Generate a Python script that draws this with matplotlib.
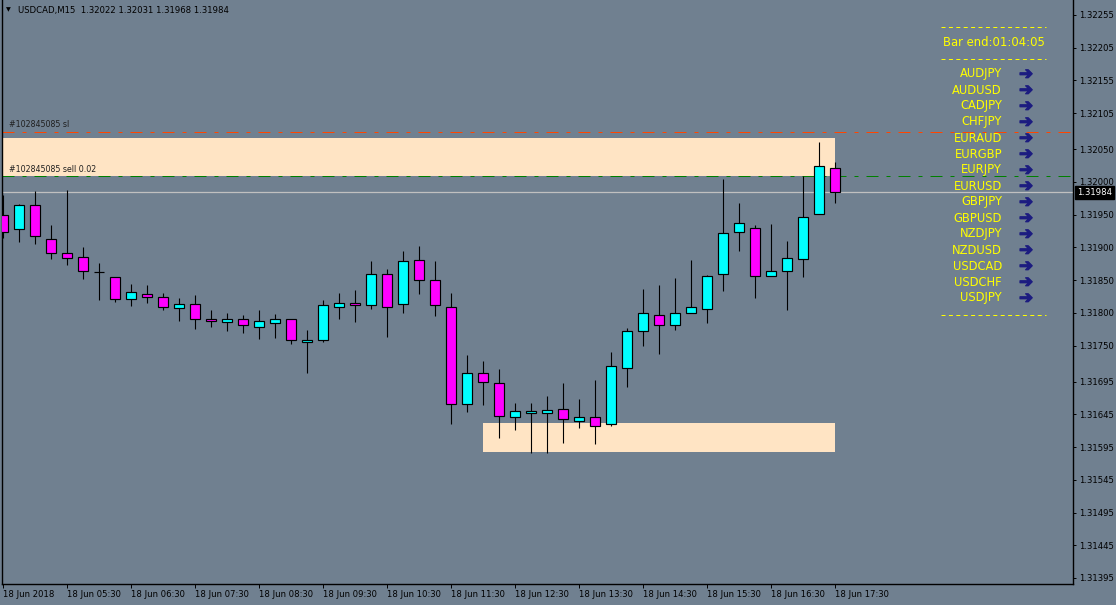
import matplotlib
matplotlib.use('Agg')
import matplotlib.pyplot as plt
import matplotlib.patheffects as pe
from matplotlib.patches import Rectangle
from matplotlib.lines import Line2D
import numpy as np

plt.rcParams['font.family'] = ['DejaVu Sans']

symbol = "USDCAD,M15"
header_ohlc = "1.32022 1.32031 1.31968 1.31984"

# M15 bars, 18 Jun 2018 04:30 .. 17:30
opens = [1.31950, 1.31928, 1.31965, 1.31913, 1.31891, 1.31885, 1.31862, 1.31855, 1.31821, 1.31829,
         1.31824, 1.31807, 1.31814, 1.31791, 1.31786, 1.31791, 1.31778, 1.31785, 1.31791, 1.31756,
         1.31759, 1.31809, 1.31815, 1.31812, 1.31859, 1.31814, 1.31881, 1.31850, 1.31809, 1.31661,
         1.31708, 1.31693, 1.31641, 1.31647, 1.31647, 1.31653, 1.31635, 1.31641, 1.31630, 1.31716,
         1.31772, 1.31797, 1.31781, 1.31800, 1.31806, 1.31859, 1.31924, 1.31930, 1.31856, 1.31864,
         1.31882, 1.31951, 1.32022]
highs = [1.31980, 1.31966, 1.31986, 1.31934, 1.31988, 1.31901, 1.31876, 1.31855, 1.31844, 1.31843,
         1.31830, 1.31823, 1.31827, 1.31804, 1.31800, 1.31797, 1.31804, 1.31798, 1.31791, 1.31774,
         1.31820, 1.31830, 1.31835, 1.31879, 1.31867, 1.31895, 1.31902, 1.31879, 1.31830, 1.31736,
         1.31727, 1.31714, 1.31662, 1.31662, 1.31673, 1.31693, 1.31668, 1.31698, 1.31740, 1.31777,
         1.31836, 1.31843, 1.31853, 1.31881, 1.31858, 1.32004, 1.31968, 1.31934, 1.31936, 1.31910,
         1.32009, 1.32061, 1.32031]
lows = [1.31914, 1.31908, 1.31905, 1.31882, 1.31873, 1.31852, 1.31820, 1.31817, 1.31811, 1.31815,
        1.31804, 1.31788, 1.31775, 1.31778, 1.31772, 1.31769, 1.31760, 1.31762, 1.31752, 1.31708,
        1.31756, 1.31791, 1.31786, 1.31806, 1.31763, 1.31800, 1.31829, 1.31795, 1.31630, 1.31649,
        1.31659, 1.31609, 1.31621, 1.31586, 1.31586, 1.31601, 1.31624, 1.31600, 1.31627, 1.31687,
        1.31749, 1.31737, 1.31774, 1.31800, 1.31785, 1.31833, 1.31895, 1.31823, 1.31856, 1.31804,
        1.31855, 1.31951, 1.31968]
closes = [1.31924, 1.31965, 1.31917, 1.31891, 1.31884, 1.31864, 1.31862, 1.31821, 1.31832, 1.31824,
          1.31809, 1.31814, 1.31791, 1.31788, 1.31791, 1.31781, 1.31788, 1.31791, 1.31759, 1.31759,
          1.31812, 1.31815, 1.31812, 1.31859, 1.31809, 1.31879, 1.31850, 1.31812, 1.31661, 1.31708,
          1.31694, 1.31642, 1.31650, 1.31650, 1.31652, 1.31638, 1.31641, 1.31627, 1.31719, 1.31772,
          1.31800, 1.31781, 1.31800, 1.31809, 1.31856, 1.31922, 1.31937, 1.31856, 1.31864, 1.31884,
          1.31946, 1.32024, 1.31984]

price_ticks = [1.32255, 1.32205, 1.32155, 1.32105, 1.32050, 1.32000, 1.31950, 1.31900, 1.31850,
               1.31800, 1.31750, 1.31695, 1.31645, 1.31595, 1.31545, 1.31495, 1.31445, 1.31395]
time_ticks = [0, 4, 8, 12, 16, 20, 24, 28, 32, 36, 40, 44, 48, 52]
time_labels = ["18 Jun 2018", "18 Jun 05:30", "18 Jun 06:30", "18 Jun 07:30", "18 Jun 08:30",
               "18 Jun 09:30", "18 Jun 10:30", "18 Jun 11:30", "18 Jun 12:30", "18 Jun 13:30",
               "18 Jun 14:30", "18 Jun 15:30", "18 Jun 16:30", "18 Jun 17:30"]

bid = 1.31984
sell_price = 1.32009
sl_price = 1.32077
order_sl_label = "#102845085 sl"
order_label = "#102845085 sell 0.02"
supply_zone = (-5, 52, 1.32009, 1.32067)
demand_zone = (30, 52, 1.31588, 1.31632)

timer_text = "Bar end:01:04:05"
pairs = ["AUDJPY", "AUDUSD", "CADJPY", "CHFJPY", "EURAUD", "EURGBP", "EURJPY", "EURUSD",
         "GBPJPY", "GBPUSD", "NZDJPY", "NZDUSD", "USDCAD", "USDCHF", "USDJPY"]

W, H = 1116, 605
bg = '#708090'
fig = plt.figure(figsize=(W / 100, H / 100), dpi=100, facecolor=bg)
ax = fig.add_axes([2 / W, (H - 584) / H, 1071 / W, 584 / H], facecolor=bg)

x = np.arange(len(opens))
o = np.array(opens); c = np.array(closes)
colors = np.where(c > o, '#00ffff', np.where(c < o, '#ff00ff', 'black'))

ax.vlines(x, lows, highs, color='black', lw=0.8, zorder=3)
ax.bar(x, c - o, bottom=o, width=0.6, color=colors, edgecolor='black', linewidth=0.85, zorder=4)

for z in (supply_zone, demand_zone):
    ax.add_patch(Rectangle((z[0], z[2]), z[1] - z[0], z[3] - z[2], facecolor='#ffe4c4',
                           edgecolor='none', zorder=1))

ax.axhline(bid, color='#c0c0c0', lw=0.9, zorder=2)
ax.axhline(sell_price, color='#008000', lw=0.72, ls=(0, (12, 8, 4, 8)), zorder=2)
ax.axhline(sl_price, color='#ff4500', lw=0.72, ls=(0, (12, 8, 4, 8)), zorder=2)

ax.text(0.375, 1.32088, order_sl_label, fontsize=5.7, color='#202020', va='center', ha='left', zorder=5)
ax.text(0.375, 1.32019, order_label, fontsize=5.7, color='#202020', va='center', ha='left', zorder=5)

ax.set_xlim(-0.0625, 66.875)
ax.set_ylim(1.313858, 1.322779)

ax.yaxis.tick_right()
ax.set_yticks(price_ticks)
ax.set_yticklabels([f"{p:.5f}" for p in price_ticks])
ax.set_xticks(time_ticks)
ax.set_xticklabels(time_labels)
for lab in ax.get_xticklabels():
    lab.set_horizontalalignment('left')
ax.tick_params(axis='y', direction='out', length=2.5, width=0.7, pad=2.2, labelsize=6.1, colors='black')
ax.tick_params(axis='x', direction='out', length=3, width=0.7, pad=1.5, labelsize=6.1, colors='black')
for s in ('left', 'right', 'bottom'):
    ax.spines[s].set_color('black')
    ax.spines[s].set_linewidth(1.0)
ax.spines['top'].set_visible(False)

ax.text(1.0037, bid, f"{bid:.5f}", transform=ax.get_yaxis_transform(), fontsize=6.1, color='white',
        va='center', ha='left', clip_on=False, zorder=6,
        bbox=dict(boxstyle='square,pad=0.2', fc='black', ec='black'))


def fx(px):
    return px / W


def fy(py):
    return 1 - py / H


fig.text(fx(6), fy(10), "▼", fontsize=4.5, color='black', va='center', ha='left')
fig.text(fx(18), fy(10), f"{symbol}  {header_ohlc}", fontsize=6.1, color='black', va='center', ha='left')

for yy in (27, 59, 315):
    fig.add_artist(Line2D([fx(941), fx(1046)], [fy(yy), fy(yy)], color='#ffff00', lw=0.72,
                          ls=(0, (4, 3.4))))
fig.text(fx(993.5), fy(43), timer_text, fontsize=8.4, color='#ffff00', va='center', ha='center')
arrow_fx = [pe.withStroke(linewidth=0.9, foreground='#1c1c80')]
for i, p in enumerate(pairs):
    yy = 74 + 16 * i
    fig.text(fx(1002), fy(yy), p, fontsize=8.3, color='#ffff00', va='center', ha='right')
    fig.text(fx(1026), fy(yy), "➔", fontsize=12, color='#1c1c80', va='center', ha='center',
             path_effects=arrow_fx)

fig.savefig('out.png', dpi=100, facecolor=bg)
